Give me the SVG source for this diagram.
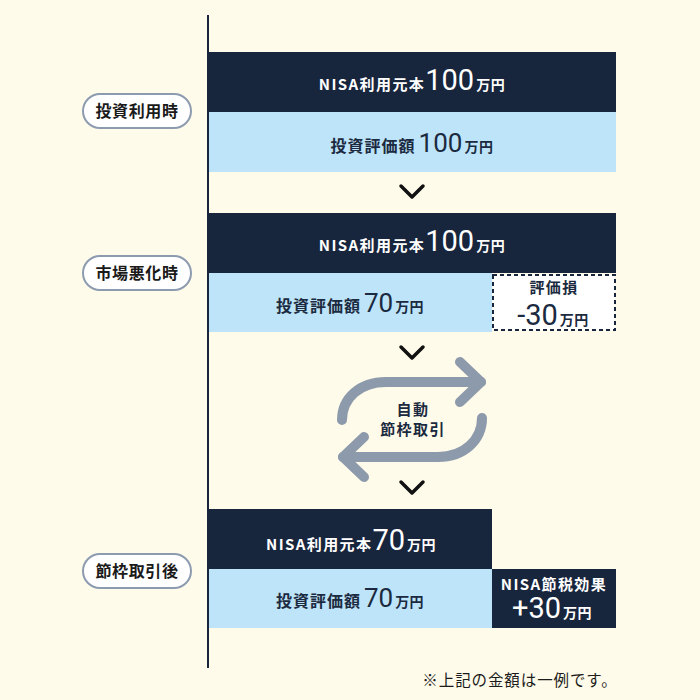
<svg xmlns="http://www.w3.org/2000/svg" width="700" height="700" viewBox="0 0 700 700">
<style>
.bg{fill:#fffbea}
.dark{fill:#17253d}
.light{fill:#bde4f8}
.pill{fill:#ffffff;stroke:#8d9bb0;stroke-width:2}
.pt{font-family:"Noto Sans CJK JP",sans-serif;font-size:16px;font-weight:700;fill:#1a1a1a;text-anchor:middle;letter-spacing:0.6px}
.w{font-family:"Noto Sans CJK JP",sans-serif;font-weight:700;fill:#ffffff;text-anchor:middle}
.n{font-family:"Noto Sans CJK JP",sans-serif;font-weight:700;fill:#1b2a40;text-anchor:middle}
.lab{font-size:15px;letter-spacing:1.4px}
.lab2{font-size:16px;letter-spacing:1px}
.big{font-family:Roboto,"Noto Sans CJK JP",sans-serif;font-weight:400;font-size:29px;letter-spacing:0}
.mid{font-family:Roboto,"Noto Sans CJK JP",sans-serif;font-weight:400;font-size:26px;letter-spacing:0}
.unit{font-size:14px;letter-spacing:0.5px}
.chev{fill:none;stroke:#111;stroke-width:3.5;stroke-linecap:round;stroke-linejoin:round}
.cyc{fill:none;stroke:#8d9aab;stroke-width:10;stroke-linecap:round;stroke-linejoin:round}
</style>
<rect class="bg" x="0" y="0" width="700" height="700"/>
<g id="connectors">
<line x1="208" y1="15" x2="208" y2="668" stroke="#17253d" stroke-width="2"/>
<path class="chev" d="M401,186 L412,197 L423,186"/>
<path class="chev" d="M401,347 L412,358 L423,347"/>
<path class="chev" d="M401,482 L412,493 L423,482"/>
</g>
<g id="pill1"><rect class="pill" x="83" y="94" width="108" height="34" rx="17"/><text class="pt" x="137" y="117">投資利用時</text></g>
<g id="pill2"><rect class="pill" x="83" y="256" width="108" height="34" rx="17"/><text class="pt" x="137" y="279">市場悪化時</text></g>
<g id="pill3"><rect class="pill" x="83" y="554" width="108" height="34" rx="17"/><text class="pt" x="137" y="577">節枠取引後</text></g>
<g id="block1">
<rect class="dark" x="209" y="52" width="407" height="60"/>
<text class="w" x="412" y="90"><tspan class="lab">NISA利用元本</tspan><tspan class="big">100</tspan><tspan class="unit" dx="2">万円</tspan></text>
<rect class="light" x="209" y="112" width="407" height="60"/>
<text class="n" x="412" y="152"><tspan class="lab2">投資評価額</tspan><tspan class="mid" dx="3">100</tspan><tspan class="unit" dx="2">万円</tspan></text>
</g>
<g id="block2">
<rect class="dark" x="209" y="213" width="407" height="60"/>
<text class="w" x="412" y="251"><tspan class="lab">NISA利用元本</tspan><tspan class="big">100</tspan><tspan class="unit" dx="2">万円</tspan></text>
<rect class="light" x="209" y="273" width="283" height="59"/>
<text class="n" x="350" y="312"><tspan class="lab2">投資評価額</tspan><tspan class="mid" dx="3">70</tspan><tspan class="unit" dx="2">万円</tspan></text>
</g>
<g id="loss">
<rect x="493" y="275" width="122" height="55" fill="#ffffff" stroke="#17253d" stroke-width="2" stroke-dasharray="4 3"/>
<text class="n lab" x="554" y="293">評価損</text>
<text class="n" x="553" y="325"><tspan class="big">-30</tspan><tspan class="unit" dx="2">万円</tspan></text>
</g>
<g id="cycle">
<path class="cyc" d="M342,420 C342,398 360,382 386,382 H481"/>
<path class="cyc" d="M460,362 L481,382 L460,402"/>
<path class="cyc" d="M482,418 C482,440 464,457 438,457 H343"/>
<path class="cyc" d="M364,437 L343,457 L364,477"/>
<text class="n lab" x="413" y="415">自動</text>
<text class="n lab" x="413" y="435">節枠取引</text>
</g>
<g id="block3">
<rect class="dark" x="209" y="509" width="283" height="60"/>
<text class="w" x="351" y="550"><tspan class="lab">NISA利用元本</tspan><tspan class="big">70</tspan><tspan class="unit" dx="2">万円</tspan></text>
<rect class="light" x="209" y="569" width="283" height="59"/>
<text class="n" x="350" y="607"><tspan class="lab2">投資評価額</tspan><tspan class="mid" dx="3">70</tspan><tspan class="unit" dx="2">万円</tspan></text>
</g>
<g id="effect">
<rect class="dark" x="492" y="569" width="124" height="59"/>
<text class="w lab" x="554" y="590">NISA節税効果</text>
<text class="w" x="552" y="618"><tspan class="big">+30</tspan><tspan class="unit" dx="2">万円</tspan></text>
</g>
<text x="520" y="686" font-family="Noto Sans CJK JP, sans-serif" font-size="15.5" fill="#1b1b1b" text-anchor="middle" letter-spacing="0.9">※上記の金額は一例です。</text>
</svg>
